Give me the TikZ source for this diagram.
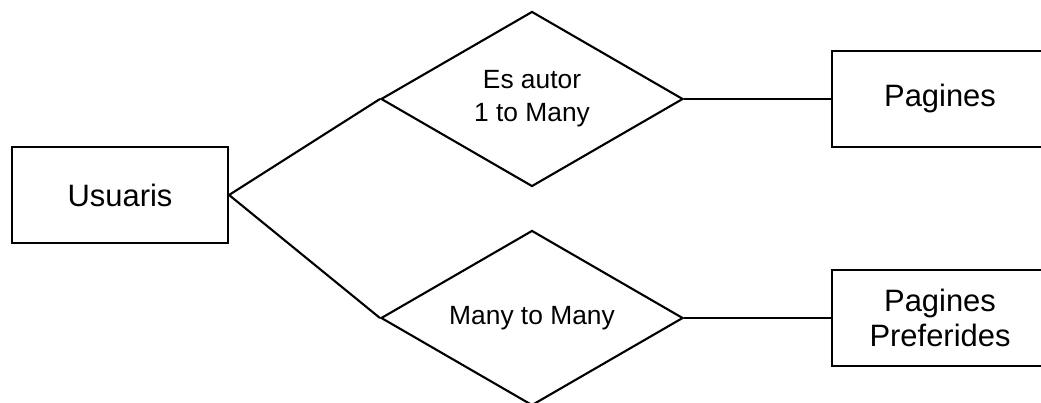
\documentclass[tikz,border=0pt]{standalone}
\usepackage{fontspec}
\setmainfont{Liberation Sans}
\usetikzlibrary{shapes.geometric}
\tikzset{
  entity/.style={draw, line width=1.2pt, minimum width=4.32cm, minimum height=1.92cm,
    align=center, font=\fontsize{17.6}{19.9}\selectfont},
  relation/.style={draw, diamond, line width=1.2pt, aspect=1.73, inner sep=0pt,
    minimum width=6.04cm, minimum height=3.5cm, align=center,
    font=\fontsize{15}{18.8}\selectfont}
}
\begin{document}
\begin{tikzpicture}
\useasboundingbox (0,0) rectangle (20.82,8.06);

\node[entity] (usuaris) at (2.4,4.16) {Usuaris};
\node[relation] (autor) at (10.64,6.08) {Es autor\\1 to Many};
\node[relation] (preferit) at (10.64,1.7) {Many to Many};
\node[entity] (pagines) at (18.8,6.08) {Pagines};
\node[entity] (preferides) at (18.8,1.7) {Pagines\\Preferides};

\draw[line width=1.2pt] (usuaris.east) -- (autor.west);
\draw[line width=1.2pt] (usuaris.east) -- (preferit.west);
\draw[line width=1.2pt] (autor.east) -- (pagines.west);
\draw[line width=1.2pt] (preferit.east) -- (preferides.west);
\end{tikzpicture}
\end{document}
